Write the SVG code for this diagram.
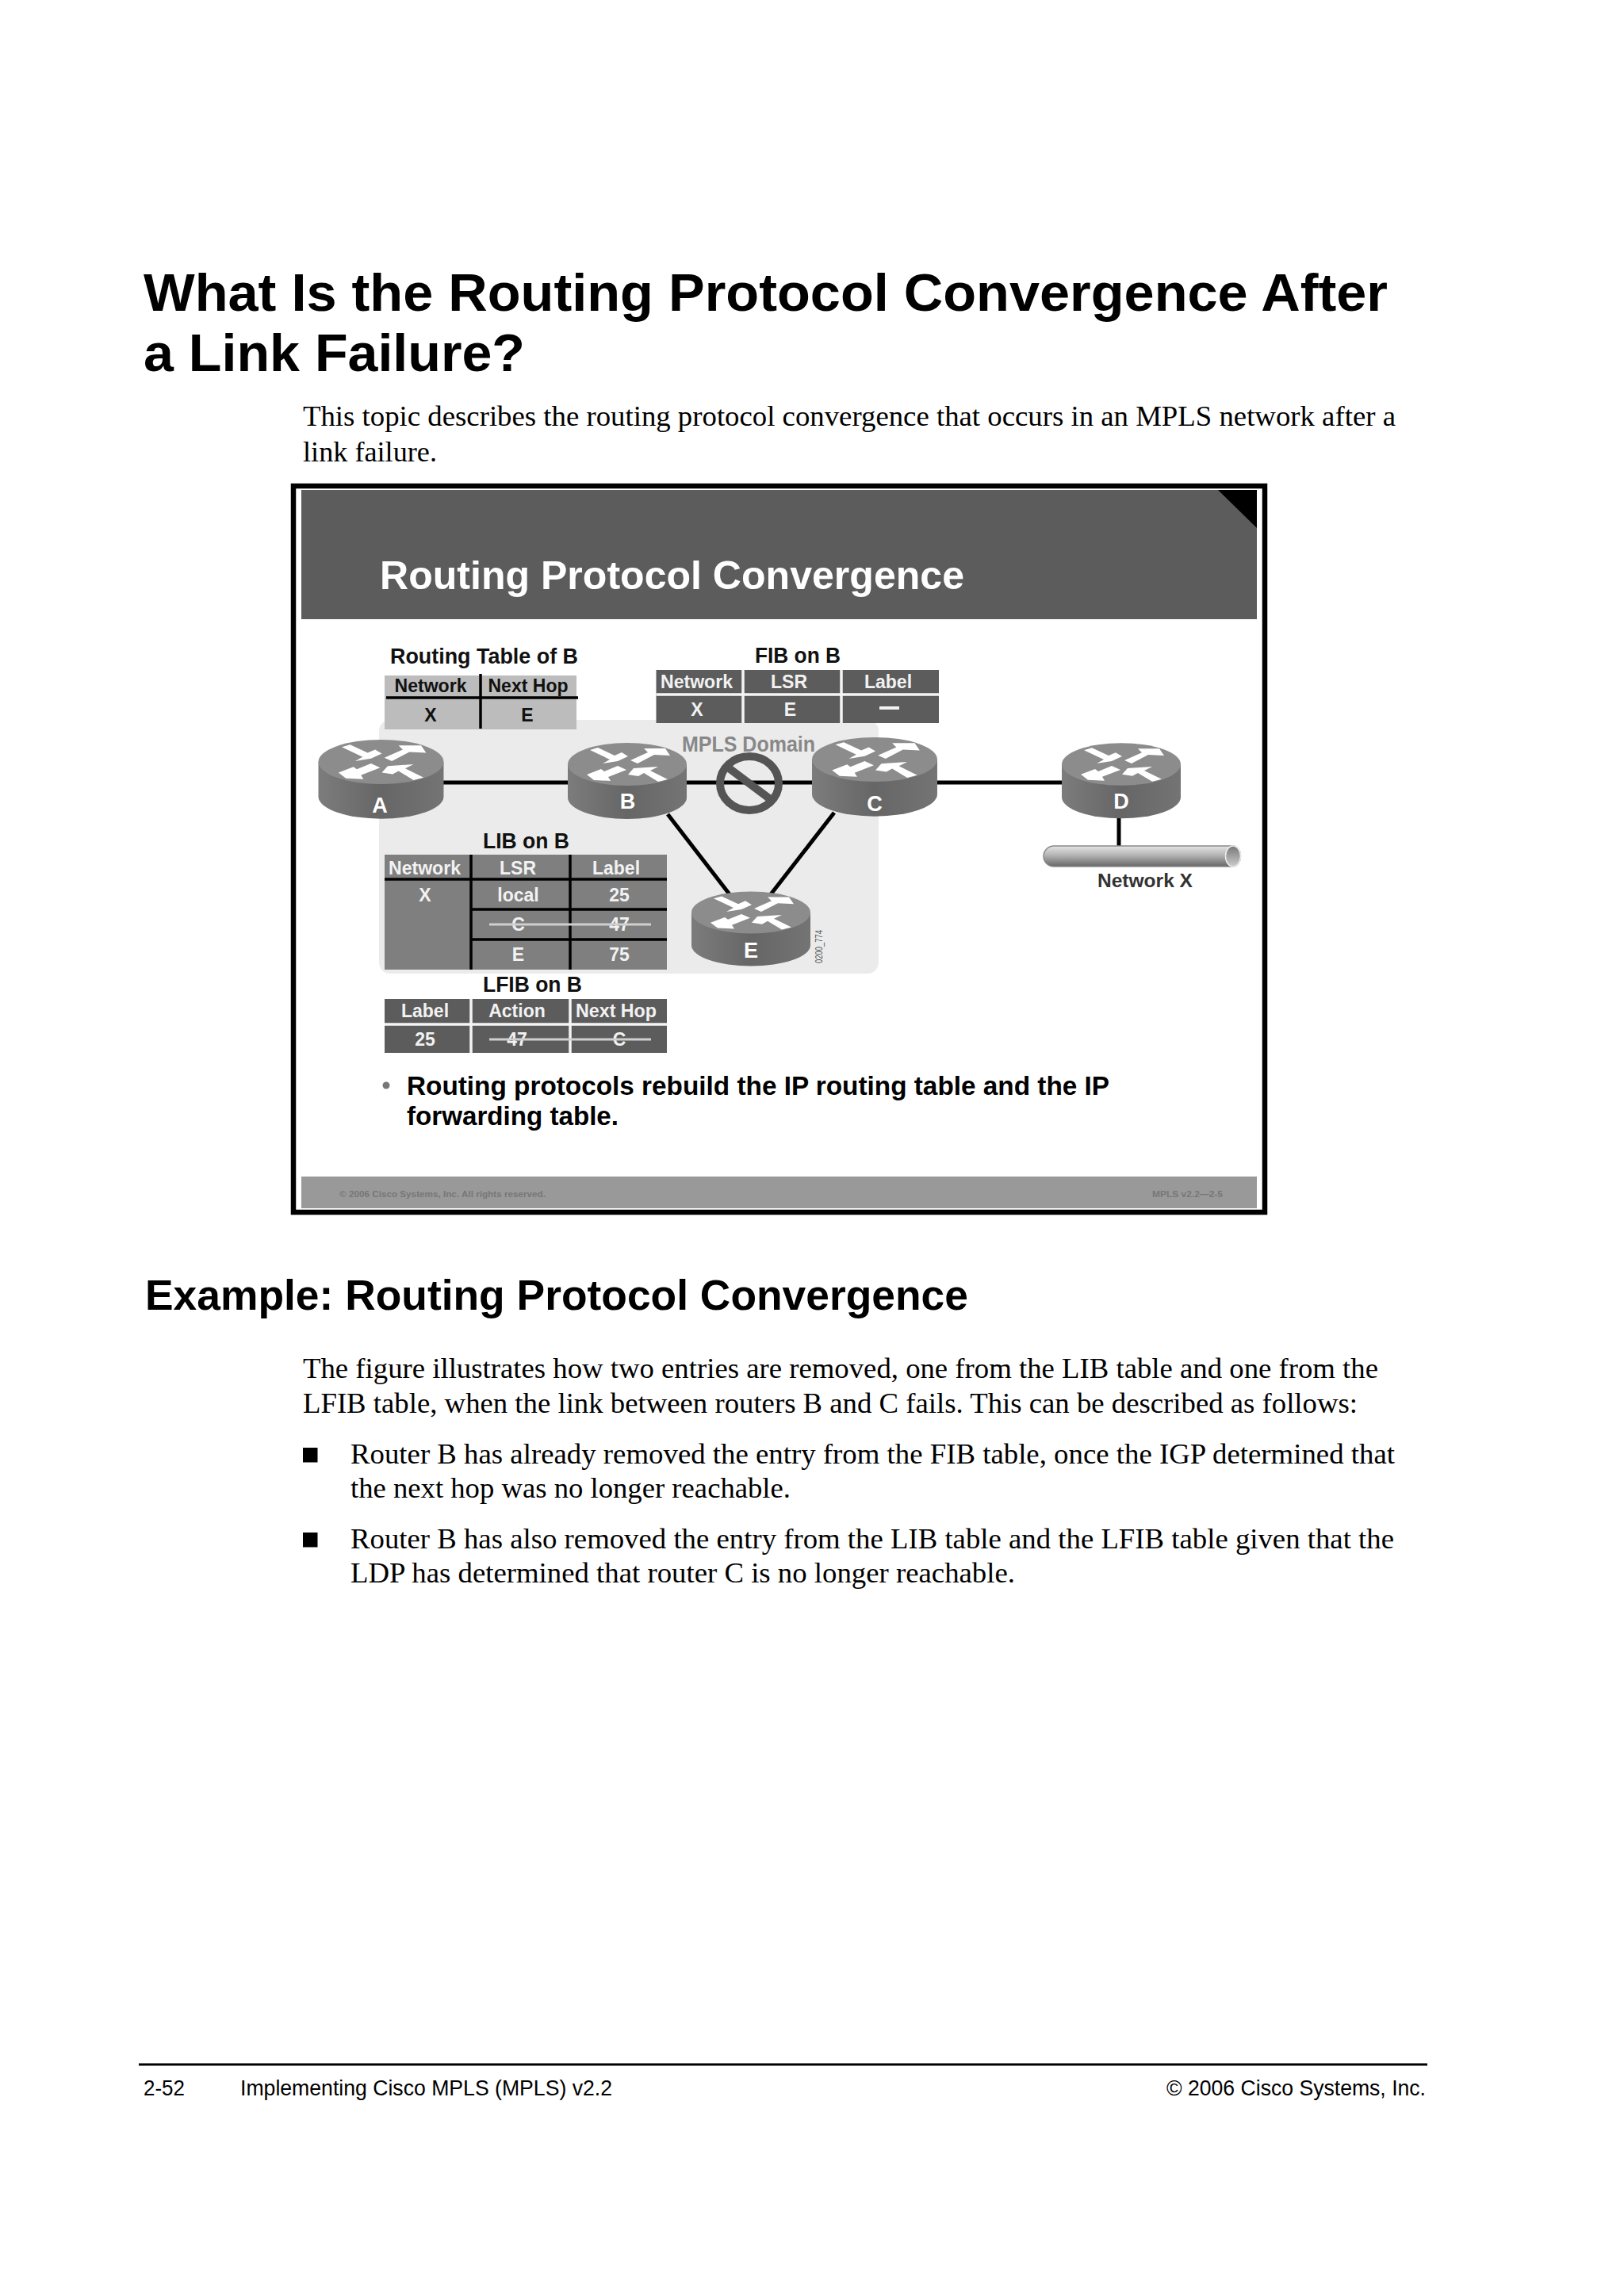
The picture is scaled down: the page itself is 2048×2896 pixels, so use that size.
<svg xmlns="http://www.w3.org/2000/svg" xmlns:xlink="http://www.w3.org/1999/xlink" width="2048" height="2896" viewBox="0 0 2048 2896">
<style>
text{font-family:"Liberation Sans",Arial,sans-serif}
.serif{font-family:"Liberation Serif","Times New Roman",serif;font-size:36.5px;fill:#000}
.h1{font-weight:bold;font-size:67px;fill:#000}
.h2{font-weight:bold;font-size:53px;fill:#000}
.foot{font-size:27px;fill:#000}
.ttl{font-weight:bold;font-size:27px;fill:#111}
.tb{font-weight:bold;font-size:23px;fill:#111;text-anchor:middle}
.tw{font-weight:bold;font-size:23px;fill:#f2f2f2;text-anchor:middle}
.rl{font-weight:bold;font-size:27px;fill:#fff;text-anchor:middle}
.bl{font-weight:bold;font-size:33px;fill:#000}
.sf{font-weight:bold;font-size:11px;fill:#777}
.link{stroke:#000;stroke-width:5;fill:none}
.k{stroke:#000;stroke-width:3.5;fill:none}
.w{stroke:#f4f4f4;stroke-width:3.5;fill:none}
.st{stroke:#cfcfcf;stroke-width:3;fill:none}
</style>
<defs>
<linearGradient id="side" x1="0" x2="1" y1="0" y2="0">
<stop offset="0" stop-color="#7c7c7c"/><stop offset=".5" stop-color="#666"/><stop offset="1" stop-color="#747474"/>
</linearGradient>
<linearGradient id="pipe" x1="0" x2="0" y1="0" y2="1">
<stop offset="0" stop-color="#e4e4e4"/><stop offset=".45" stop-color="#b4b4b4"/><stop offset="1" stop-color="#666"/>
</linearGradient>
<linearGradient id="pipeEnd" x1="0" x2="0" y1="0" y2="1">
<stop offset="0" stop-color="#777"/><stop offset="1" stop-color="#ccc"/>
</linearGradient>
<g id="router">
<path d="M-75 0V42A75 27 0 0 0 75 42V0Z" fill="url(#side)"/>
<ellipse cx="0" cy="0" rx="75" ry="27" fill="#8c8c8c"/>
<g fill="#fff">
<polygon points="-47,-18 -37,-21 -16,-11 -7,-15 1,-10 -12,-4 -31,-1 -22,-6"/>
<polygon points="4,-5 26,-15 21,-20 48,-20 54,-11 34,-12 13,-1"/>
<polygon points="-12,2 -29,9 -33,6 -51,13 -42,20 -21,21 -24,16 -1,7"/>
<polygon points="51,19 39,22 21,11 14,15 1,13 8,5 39,3 29,8"/>
</g>
</g>
</defs>
<rect width="2048" height="2896" fill="#fff"/>

<g id="page-heading">
<text class="h1" x="181" y="392" textLength="1569" lengthAdjust="spacingAndGlyphs">What Is the Routing Protocol Convergence After</text>
<text class="h1" x="181" y="468" textLength="481" lengthAdjust="spacingAndGlyphs">a Link Failure?</text>
<text class="serif" x="382" y="537" textLength="1378" lengthAdjust="spacingAndGlyphs">This topic describes the routing protocol convergence that occurs in an MPLS network after a</text>
<text class="serif" x="382" y="582" textLength="169" lengthAdjust="spacingAndGlyphs">link failure.</text>
</g>

<g id="slide">
<rect x="370" y="613" width="1225" height="916" fill="#fff" stroke="#000" stroke-width="6.5"/>
<rect x="380" y="618" width="1205" height="163" fill="#5c5c5c"/>
<polygon points="1536,618 1585,618 1585,666" fill="#000"/>
<text x="479" y="743" font-weight="bold" font-size="50" fill="#fff" textLength="737" lengthAdjust="spacingAndGlyphs">Routing Protocol Convergence</text>
<rect id="mpls-domain" x="478" y="908" width="630" height="320" rx="14" fill="#ebebeb"/>
<text x="860" y="948" font-weight="bold" font-size="27" fill="#888" textLength="168" lengthAdjust="spacingAndGlyphs">MPLS Domain</text>
</g>

<g id="connectors">
<line class="link" x1="559" y1="987" x2="716" y2="987"/>
<line class="link" x1="866" y1="987" x2="1024" y2="987"/>
<line class="link" x1="1182" y1="987" x2="1339" y2="987"/>
<line class="link" x1="842" y1="1027" x2="920" y2="1128"/>
<line class="link" x1="1052" y1="1025" x2="972" y2="1128"/>
<line class="link" x1="1411" y1="1030" x2="1411" y2="1067"/>
</g>

<g id="link-failure">
<ellipse cx="945" cy="988" rx="37" ry="34" fill="none" stroke="#555" stroke-width="10"/>
<line x1="918" y1="968" x2="970" y2="1007" stroke="#555" stroke-width="10"/>
</g>

<g id="router-a"><use xlink:href="#router" href="#router" transform="translate(480.5 961) scale(1.053 1.04)"/><text class="rl" x="479" y="1025">A</text></g>
<g id="router-b"><use xlink:href="#router" href="#router" transform="translate(791 964)"/><text class="rl" x="791.5" y="1020">B</text></g>
<g id="router-c"><use xlink:href="#router" href="#router" transform="translate(1103 958) scale(1.053 1.04)"/><text class="rl" x="1103" y="1023">C</text></g>
<g id="router-d"><use xlink:href="#router" href="#router" transform="translate(1414 964) scale(1 .99)"/><text class="rl" x="1414" y="1020">D</text></g>
<g id="router-e"><use xlink:href="#router" href="#router" transform="translate(947 1151) scale(1 .98)"/><text class="rl" x="947" y="1208">E</text></g>

<g id="network-x">
<path d="M1329 1067H1555A9.5 13 0 0 1 1555 1093H1329A13 13 0 0 1 1329 1067Z" fill="url(#pipe)" stroke="#8a8a8a" stroke-width="1.5"/>
<ellipse cx="1555" cy="1080" rx="9.5" ry="13" fill="url(#pipeEnd)" stroke="#eee" stroke-width="1.5"/>
<text x="1384" y="1119" font-weight="bold" font-size="24" fill="#333" textLength="120" lengthAdjust="spacingAndGlyphs">Network X</text>
</g>

<text x="1037" y="1215" font-size="12" fill="#555" transform="rotate(-90 1037 1215)" textLength="42" lengthAdjust="spacingAndGlyphs">0200_774</text>

<g id="routing-table">
<text class="ttl" x="492" y="837" textLength="237" lengthAdjust="spacingAndGlyphs">Routing Table of B</text>
<rect x="485" y="852" width="242" height="68" fill="#bcbcbc"/>
<line class="k" x1="606" y1="850" x2="606" y2="919"/>
<line class="k" x1="487" y1="880" x2="729" y2="880"/>
<text class="tb" x="543" y="873" textLength="91" lengthAdjust="spacingAndGlyphs">Network</text>
<text class="tb" x="666" y="873" textLength="101" lengthAdjust="spacingAndGlyphs">Next Hop</text>
<text class="tb" x="543" y="910">X</text>
<text class="tb" x="665" y="910">E</text>
</g>

<g id="fib">
<text class="ttl" x="952" y="836" textLength="108" lengthAdjust="spacingAndGlyphs">FIB on B</text>
<rect x="827.5" y="845" width="356.5" height="67" fill="#5c5c5c"/>
<line class="w" x1="937" y1="845" x2="937" y2="912"/>
<line class="w" x1="1061" y1="845" x2="1061" y2="912"/>
<line class="w" x1="827.5" y1="876" x2="1184" y2="876"/>
<text class="tw" x="878.5" y="868" textLength="91" lengthAdjust="spacingAndGlyphs">Network</text>
<text class="tw" x="995" y="868">LSR</text>
<text class="tw" x="1120" y="868">Label</text>
<text class="tw" x="879" y="903">X</text>
<text class="tw" x="996.5" y="903">E</text>
<rect x="1109" y="891" width="25" height="4" fill="#f2f2f2"/>
</g>

<g id="lib">
<text class="ttl" x="609" y="1070" textLength="109" lengthAdjust="spacingAndGlyphs">LIB on B</text>
<rect x="485" y="1078" width="356" height="145" fill="#7f7f7f"/>
<line class="k" x1="594" y1="1078" x2="594" y2="1223"/>
<line class="k" x1="719" y1="1078" x2="719" y2="1223"/>
<line class="k" x1="485" y1="1109" x2="841" y2="1109"/>
<line class="k" x1="594" y1="1147" x2="841" y2="1147"/>
<line class="k" x1="594" y1="1185" x2="841" y2="1185"/>
<text class="tw" x="535.5" y="1103" textLength="91" lengthAdjust="spacingAndGlyphs">Network</text>
<text class="tw" x="653" y="1103">LSR</text>
<text class="tw" x="777" y="1103">Label</text>
<text class="tw" x="536" y="1137">X</text>
<text class="tw" x="653.5" y="1137">local</text>
<text class="tw" x="781" y="1137">25</text>
<text class="tw" x="653.5" y="1174">C</text>
<text class="tw" x="781" y="1174">47</text>
<line class="st" x1="617" y1="1166" x2="821" y2="1166"/>
<text class="tw" x="653.5" y="1212">E</text>
<text class="tw" x="781" y="1212">75</text>
</g>

<g id="lfib">
<text class="ttl" x="609" y="1251" textLength="125" lengthAdjust="spacingAndGlyphs">LFIB on B</text>
<rect x="485" y="1260" width="356" height="68" fill="#5c5c5c"/>
<line class="w" x1="594" y1="1260" x2="594" y2="1328"/>
<line class="w" x1="719" y1="1260" x2="719" y2="1328"/>
<line class="w" x1="485" y1="1292" x2="841" y2="1292" stroke-width="4"/>
<text class="tw" x="536" y="1283">Label</text>
<text class="tw" x="652" y="1283">Action</text>
<text class="tw" x="777" y="1283" textLength="102" lengthAdjust="spacingAndGlyphs">Next Hop</text>
<text class="tw" x="536" y="1319">25</text>
<text class="tw" x="652" y="1319">47</text>
<text class="tw" x="781" y="1319">C</text>
<line class="st" x1="617" y1="1311" x2="821" y2="1311"/>
</g>

<g id="slide-body">
<circle cx="487" cy="1369" r="4.5" fill="#777"/>
<text class="bl" x="513" y="1381" textLength="886" lengthAdjust="spacingAndGlyphs">Routing protocols rebuild the IP routing table and the IP</text>
<text class="bl" x="513" y="1419" textLength="267" lengthAdjust="spacingAndGlyphs">forwarding table.</text>
<rect x="380" y="1484" width="1205" height="40" fill="#999"/>
<text class="sf" x="428" y="1510" textLength="260" lengthAdjust="spacingAndGlyphs">© 2006 Cisco Systems, Inc. All rights reserved.</text>
<text class="sf" x="1453" y="1510" textLength="89" lengthAdjust="spacingAndGlyphs">MPLS v2.2—2-5</text>
</g>

<g id="example">
<text class="h2" x="183" y="1652" textLength="1038" lengthAdjust="spacingAndGlyphs">Example: Routing Protocol Convergence</text>
<text class="serif" x="382" y="1738" textLength="1356" lengthAdjust="spacingAndGlyphs">The figure illustrates how two entries are removed, one from the LIB table and one from the</text>
<text class="serif" x="382" y="1782" textLength="1330" lengthAdjust="spacingAndGlyphs">LFIB table, when the link between routers B and C fails. This can be described as follows:</text>
<rect x="382" y="1826" width="18.500" height="18.500" fill="#000"/>
<text class="serif" x="442" y="1846" textLength="1317" lengthAdjust="spacingAndGlyphs">Router B has already removed the entry from the FIB table, once the IGP determined that</text>
<text class="serif" x="442" y="1889" textLength="555" lengthAdjust="spacingAndGlyphs">the next hop was no longer reachable.</text>
<rect x="382" y="1933" width="18.500" height="18.500" fill="#000"/>
<text class="serif" x="442" y="1953" textLength="1316" lengthAdjust="spacingAndGlyphs">Router B has also removed the entry from the LIB table and the LFIB table given that the</text>
<text class="serif" x="442" y="1996" textLength="838" lengthAdjust="spacingAndGlyphs">LDP has determined that router C is no longer reachable.</text>
</g>

<g id="page-footer">
<line x1="175" y1="2604" x2="1800" y2="2604" stroke="#000" stroke-width="3"/>
<text class="foot" x="181" y="2643" textLength="52" lengthAdjust="spacingAndGlyphs">2-52</text>
<text class="foot" x="303" y="2643" textLength="469" lengthAdjust="spacingAndGlyphs">Implementing Cisco MPLS (MPLS) v2.2</text>
<text class="foot" x="1471" y="2643" textLength="327" lengthAdjust="spacingAndGlyphs">© 2006 Cisco Systems, Inc.</text>
</g>
</svg>
